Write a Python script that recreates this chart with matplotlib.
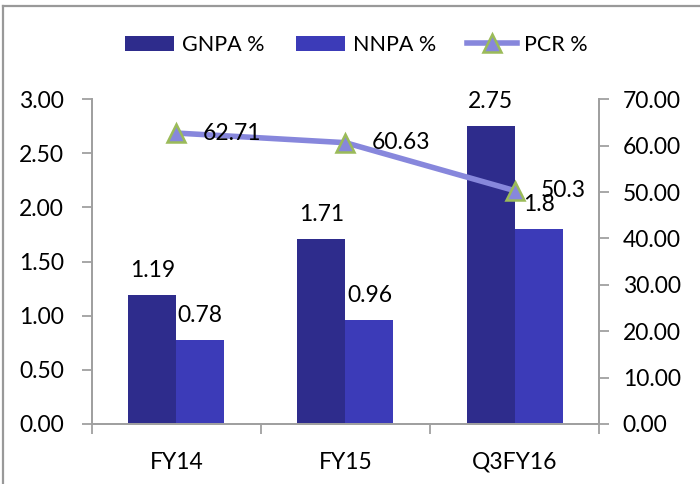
import matplotlib
matplotlib.use('Agg')
import matplotlib.pyplot as plt
from matplotlib.lines import Line2D
import numpy as np

plt.rcParams['font.family'] = ['Lato', 'DejaVu Sans']

categories = ['FY14', 'FY15', 'Q3FY16']
gnpa = [1.19, 1.71, 2.75]
nnpa = [0.78, 0.96, 1.8]
pcr = [62.71, 60.63, 50.3]
gnpa_labels = ['1.19', '1.71', '2.75']
nnpa_labels = ['0.78', '0.96', '1.8']
pcr_labels = ['62.71', '60.63', '50.3']

c_gnpa = '#2e2c8c'
c_nnpa = '#3c3bb8'
c_line = '#8787dc'
c_grid = '#a0a0a0'
fs = 16.5

fig = plt.figure(figsize=(7, 4.84), dpi=100)
ax = fig.add_axes([0.131, 0.124, 0.725, 0.671])
ax2 = ax.twinx()

x = np.arange(len(categories))
w = 0.284
ax.bar(x - w / 2, gnpa, w, color=c_gnpa, label='GNPA %', zorder=2)
ax.bar(x + w / 2, nnpa, w, color=c_nnpa, label='NNPA %', zorder=2)

for i in range(len(x)):
    ax.annotate(gnpa_labels[i], (x[i] - w / 2, gnpa[i]), xytext=(0, 10),
                textcoords='offset points', ha='center', va='bottom', fontsize=fs)
    ax.annotate(nnpa_labels[i], (x[i] + w / 2, nnpa[i]), xytext=(0, 10),
                textcoords='offset points', ha='center', va='bottom', fontsize=fs)

ax2.plot(x, pcr, color=c_line, lw=4, marker='^', ms=13, mfc=c_line,
         mec='#9bbb59', mew=1.8, label='PCR %', zorder=3)
for i in range(len(x)):
    ax2.annotate(pcr_labels[i], (x[i], pcr[i]), xytext=(19, 0),
                 textcoords='offset points', ha='left', va='center', fontsize=fs)

ax.set_xlim(-0.5, 2.5)
ax.set_ylim(0, 3)
ax2.set_ylim(0, 70)
ax.set_yticks(np.arange(0, 3.01, 0.5))
ax.set_yticklabels(['%.2f' % v for v in np.arange(0, 3.01, 0.5)])
ax2.set_yticks(np.arange(0, 71, 10))
ax2.set_yticklabels(['%.2f' % v for v in np.arange(0, 71, 10)])

ax.set_xticks(x)
ax.set_xticklabels(categories)
ax.set_xticks([-0.5, 0.5, 1.5, 2.5], minor=True)
ax.tick_params(axis='x', which='major', length=0, pad=20, labelsize=fs)
ax.tick_params(axis='x', which='minor', length=7, color=c_grid, width=1.3)
ax.tick_params(axis='y', length=7, color=c_grid, width=1.3, pad=13, labelsize=fs)
ax2.tick_params(axis='y', length=7, color=c_grid, width=1.3, pad=10, labelsize=fs)

for a in (ax, ax2):
    a.spines['top'].set_visible(False)
    for s in ('left', 'right', 'bottom'):
        a.spines[s].set_color(c_grid)
        a.spines[s].set_linewidth(1.3)

h1, l1 = ax.get_legend_handles_labels()
h2, l2 = ax2.get_legend_handles_labels()
fig.legend(h1 + h2, l1 + l2, loc='center', bbox_to_anchor=(0.509, 0.907), ncol=3,
           frameon=False, fontsize=15.5, handlelength=2.3, handletextpad=0.35,
           columnspacing=1.45)

# chart frame
fig.add_artist(Line2D([3 / 700, 3 / 700], [0, 1 - 5.5 / 484], color='#999999', lw=1.6,
                      transform=fig.transFigure))
fig.add_artist(Line2D([3 / 700, 1], [1 - 5.5 / 484, 1 - 5.5 / 484], color='#999999', lw=1.6,
                      transform=fig.transFigure))

fig.savefig('out.png', dpi=100)
